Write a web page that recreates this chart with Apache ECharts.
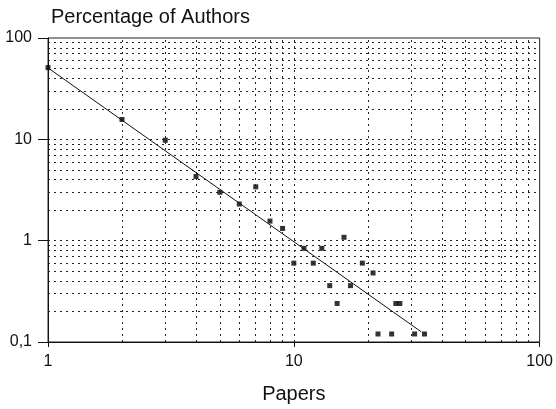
<!DOCTYPE html>
<html>
<head>
<meta charset="utf-8">
<script src="https://cdn.jsdelivr.net/npm/echarts@6/dist/echarts.min.js"></script>
<style>html,body{margin:0;padding:0;background:#fff;}#c{width:556px;height:409px;}</style>
</head>
<body>
<div id="c"></div>
<script>
// Data
var papers = [1, 2, 3, 4, 5, 6, 7, 8, 9, 10, 11, 12, 13, 14, 15, 16, 17, 19, 21, 22, 25, 26, 27, 31, 34];
var authorsPct = [51, 15.7, 9.8, 4.3, 3.0, 2.3, 3.4, 1.56, 1.32, 0.60, 0.84, 0.60, 0.84, 0.36, 0.24, 1.08, 0.36, 0.60, 0.48, 0.12, 0.12, 0.24, 0.24, 0.12, 0.12];
var fitX = [1, 33];
var fitY = [50.7, 0.126];
var xTickLabels = ['1', '10', '100'];
var yTickLabels = ['0,1', '1', '10', '100'];

var FONT = 'Liberation Sans';
var scatterData = papers.map(function (x, i) { return [x, authorsPct[i]]; });
var fitData = fitX.map(function (x, i) { return [x, fitY[i]]; });

// grid line positions at 1..9 of each decade
var xGrid = [], yGrid = [];
[1, 10].forEach(function (d) { for (var k = 1; k <= 9; k++) { if (k * d > 1) xGrid.push(k * d); } });
[0.1, 1, 10].forEach(function (d) { for (var k = 1; k <= 9; k++) { if (k * d > 0.1 + 1e-9) yGrid.push(+(k * d).toFixed(2)); } });
var gridMarks = xGrid.map(function (v) { return { xAxis: v }; }).concat(yGrid.map(function (v) { return { yAxis: v }; }));

var chart = echarts.init(document.getElementById('c'));
chart.setOption({
  animation: false,
  backgroundColor: '#fff',
  title: {
    text: 'Percentage of Authors',
    left: 46, top: 2,
    textStyle: { fontFamily: FONT, fontSize: 20, fontWeight: 'normal', color: '#111' }
  },
  grid: { left: 48, right: 14, top: 38, bottom: 67, show: true, borderColor: '#222', borderWidth: 1 },
  xAxis: {
    type: 'log', logBase: 10, min: 1, max: 100,
    name: 'Papers', nameLocation: 'middle', nameGap: 42,
    nameTextStyle: { fontFamily: FONT, fontSize: 20, color: '#111' },
    axisLine: { lineStyle: { color: '#111', width: 1 } },
    axisTick: { show: true, length: 5, lineStyle: { color: '#111' } },
    axisLabel: {
      fontFamily: FONT, fontSize: 16, color: '#111', margin: 12,
      formatter: function (v) { var i = Math.round(Math.log10(v)); return xTickLabels[i] !== undefined ? xTickLabels[i] : ''; }
    },
    splitLine: { show: false }
  },
  yAxis: {
    type: 'log', logBase: 10, min: 0.1, max: 100,
    axisLine: { show: true, lineStyle: { color: '#111', width: 1 } },
    axisTick: { show: true, length: 10, lineStyle: { color: '#111' } },
    axisLabel: {
      fontFamily: FONT, fontSize: 16, color: '#111', margin: 16,
      formatter: function (v) { var i = Math.round(Math.log10(v)) + 1; return yTickLabels[i] !== undefined ? yTickLabels[i] : ''; }
    },
    splitLine: { show: false }
  },
  series: [
    {
      type: 'line', data: [], silent: true,
      markLine: {
        silent: true, symbol: ['none', 'none'], label: { show: false },
        lineStyle: { type: [2, 4], color: '#222', width: 1 },
        emphasis: { disabled: true },
        data: gridMarks
      }
    },
    {
      type: 'line', data: fitData, showSymbol: false, silent: true,
      lineStyle: { color: '#111', width: 1 }
    },
    {
      type: 'scatter', data: scatterData, symbol: 'rect', symbolSize: 5,
      itemStyle: { color: '#000' }
    }
  ]
});
</script>
</body>
</html>
